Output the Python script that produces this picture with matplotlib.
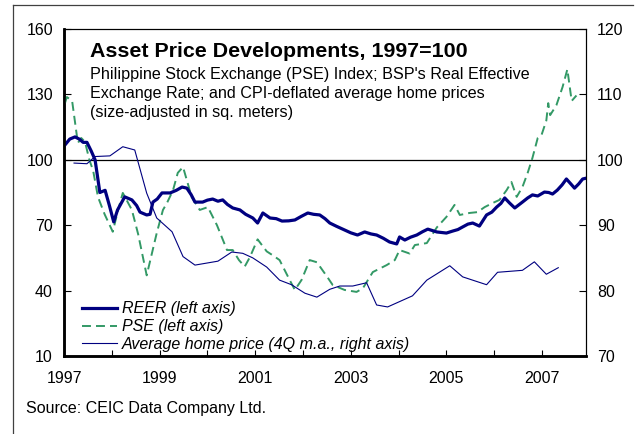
import matplotlib
matplotlib.use("Agg")
import matplotlib.pyplot as plt
from matplotlib.lines import Line2D

plt.rcParams['font.family'] = ['Liberation Sans', 'DejaVu Sans']

# ---- data (decimal years, values) ----
reer_dates = [1997.02, 1997.12, 1997.23, 1997.32, 1997.40, 1997.48, 1997.57, 1997.65, 1997.75, 1997.86,
              1997.95, 1998.04, 1998.12, 1998.27, 1998.42, 1998.52, 1998.59, 1998.73, 1998.80, 1998.86,
              1998.95, 1999.05, 1999.22, 1999.35, 1999.47, 1999.57, 1999.66, 1999.74, 1999.90, 2000.00,
              2000.11, 2000.22, 2000.32, 2000.42, 2000.53, 2000.68, 2000.80, 2000.95, 2001.05, 2001.16,
              2001.31, 2001.44, 2001.56, 2001.70, 2001.83, 2001.96, 2002.10, 2002.22, 2002.35, 2002.46,
              2002.56, 2002.70, 2002.87, 2003.00, 2003.14, 2003.29, 2003.42, 2003.54, 2003.68, 2003.81,
              2003.96, 2004.02, 2004.13, 2004.25, 2004.38, 2004.50, 2004.61, 2004.80, 2005.00, 2005.13,
              2005.24, 2005.34, 2005.45, 2005.55, 2005.69, 2005.84, 2005.95, 2006.05, 2006.14, 2006.22,
              2006.32, 2006.43, 2006.59, 2006.70, 2006.80, 2006.91, 2007.05, 2007.14, 2007.22, 2007.32,
              2007.42, 2007.51, 2007.60, 2007.68, 2007.77, 2007.85, 2007.91]
reer_vals = [106.8, 109.5, 110.5, 109.5, 108.0, 108.0, 104.0, 100.0, 85.0, 86.0,
             79.0, 71.5, 77.0, 83.0, 81.6, 79.0, 76.0, 74.7, 75.0, 80.6,
             82.0, 84.8, 84.8, 86.0, 87.5, 87.0, 84.0, 80.6, 80.6, 81.5,
             82.0, 81.0, 81.6, 79.5, 77.9, 77.0, 75.0, 73.3, 71.0, 75.6,
             73.3, 73.0, 71.9, 72.0, 72.4, 74.0, 75.6, 75.0, 74.7, 73.0,
             71.0, 69.5, 67.8, 66.5, 65.5, 66.9, 66.0, 65.5, 64.0, 62.3,
             61.4, 64.6, 63.2, 64.5, 65.5, 67.0, 68.2, 66.9, 66.4, 67.3,
             68.0, 69.2, 70.5, 71.0, 69.6, 74.7, 76.0, 78.3, 80.0, 82.5,
             80.2, 77.9, 80.6, 82.5, 83.9, 83.4, 85.2, 85.0, 84.3, 86.1,
             88.5, 91.2, 89.0, 87.0, 89.0, 91.2, 91.5]

pse_dates = [1997.02, 1997.06, 1997.17, 1997.29, 1997.36, 1997.44, 1997.53, 1997.61, 1997.71, 1997.85,
             1998.02, 1998.12, 1998.23, 1998.42, 1998.55, 1998.73, 1998.94, 1999.07, 1999.15, 1999.28,
             1999.38, 1999.49, 1999.67, 1999.84, 2000.01, 2000.20, 2000.41, 2000.53, 2000.66, 2000.78,
             2000.89, 2001.05, 2001.24, 2001.38, 2001.51, 2001.72, 2001.83, 2001.97, 2002.14, 2002.29,
             2002.50, 2002.62, 2002.87, 2003.12, 2003.25, 2003.46, 2003.75, 2003.92, 2004.02, 2004.23,
             2004.34, 2004.59, 2004.80, 2005.00, 2005.17, 2005.28, 2005.48, 2005.65, 2005.80, 2005.97,
             2006.11, 2006.26, 2006.36, 2006.47, 2006.59, 2006.70, 2006.80, 2006.91, 2006.99, 2007.09,
             2007.13, 2007.17, 2007.30, 2007.43, 2007.53, 2007.62, 2007.72]
pse_vals = [126.0, 128.8, 127.0, 107.7, 110.0, 108.2, 100.0, 95.0, 83.0, 75.0,
            67.0, 76.0, 84.8, 77.0, 66.0, 47.0, 66.4, 77.0, 80.0, 86.0,
            94.0, 96.7, 83.0, 77.0, 78.3, 70.0, 58.6, 58.6, 54.0, 51.0,
            55.4, 63.5, 58.0, 56.0, 54.0, 44.9, 40.3, 44.9, 54.0, 53.0,
            46.5, 42.6, 40.3, 39.4, 41.0, 48.5, 51.7, 54.0, 58.6, 57.0,
            60.9, 61.8, 69.0, 73.8, 79.3, 74.7, 75.6, 76.0, 78.3, 80.2,
            81.6, 86.1, 89.8, 83.0, 87.5, 94.0, 100.9, 110.0, 111.4, 118.0,
            126.0, 120.5, 125.0, 133.4, 141.5, 127.0, 129.5]

home_dates = [1997.21, 1997.48, 1997.65, 1997.96, 1998.23, 1998.48, 1998.73, 1998.94, 1999.26, 1999.49,
              1999.74, 2000.22, 2000.51, 2000.74, 2000.95, 2001.24, 2001.51, 2001.76, 2002.04, 2002.29,
              2002.56, 2002.77, 2003.04, 2003.33, 2003.54, 2003.77, 2004.29, 2004.59, 2005.07, 2005.34,
              2005.84, 2006.07, 2006.59, 2006.84, 2007.09, 2007.34]
home_vals = [99.5, 99.4, 100.5, 100.6, 102.0, 101.5, 94.9, 91.1, 89.0, 85.2,
             83.9, 84.5, 85.9, 85.7, 85.0, 83.6, 81.6, 80.9, 79.6, 79.0,
             80.2, 80.7, 80.7, 81.2, 77.8, 77.5, 79.2, 81.6, 83.8, 82.1,
             80.9, 82.8, 83.1, 84.4, 82.5, 83.5]

left_ticks = [10, 40, 70, 100, 130, 160]
right_ticks = [70, 80, 90, 100, 110, 120]
year_labels = [1997, 1999, 2001, 2003, 2005, 2007]
minor_years = [1998, 2000, 2002, 2004, 2006]

NAVY = '#000080'
GREEN = '#339966'
FS = 11.5

W, H = 635, 434
fig = plt.figure(figsize=(W / 100, H / 100), dpi=100)
ax = fig.add_axes([64 / W, 1 - 356 / H, (586 - 64) / W, (356 - 29) / H])
ax2 = ax.twinx()

l1, = ax.plot(reer_dates, reer_vals, color=NAVY, lw=2.3, solid_joinstyle='round', zorder=4)
l2, = ax.plot(pse_dates, pse_vals, color=GREEN, lw=1.4, dashes=(4.6, 2.6), zorder=3)
ax.axhline(100, color='black', lw=0.9, zorder=2)
l3, = ax2.plot(home_dates, home_vals, color=NAVY, lw=0.8, zorder=3)

ax.set_xlim(1997, 2007.92)
ax.set_ylim(10, 160)
ax2.set_ylim(70, 120)
ax.set_yticks(left_ticks)
ax2.set_yticks(right_ticks)
ax.set_xticks(year_labels)
ax.set_xticks(minor_years, minor=True)
ax.set_xticklabels([str(y) for y in year_labels])

for a in (ax, ax2):
    a.tick_params(axis='both', which='both', direction='in', length=5, width=0.8,
                  labelsize=FS, colors='black')
ax.tick_params(axis='y', pad=8)
ax2.tick_params(axis='y', pad=8)
ax.tick_params(axis='x', which='both', pad=11, length=4)

for a in (ax, ax2):
    a.spines['left'].set_linewidth(1.8)
    a.spines['bottom'].set_linewidth(1.8)
    a.spines['top'].set_linewidth(0.8)
    a.spines['right'].set_linewidth(0.8)

leg = ax2.legend([l1, l2, l3],
                 ['REER (left axis)', 'PSE (left axis)', 'Average home price (4Q m.a., right axis)'],
                 loc='lower left', bbox_to_anchor=(0.034, 0.012), frameon=False,
                 prop={'style': 'italic', 'size': FS}, handlelength=2.2,
                 handletextpad=0.3, labelspacing=0.18, borderpad=0, borderaxespad=0)

# titles
fig.text(90 / W, 1 - 57 / H, 'Asset Price Developments, 1997=100', fontsize=15.4,
         fontweight='bold', va='baseline', ha='left')
subs = ["Philippine Stock Exchange (PSE) Index; BSP's Real Effective",
        "Exchange Rate; and CPI-deflated average home prices",
        "(size-adjusted in sq. meters)"]
for i, s in enumerate(subs):
    fig.text(90 / W, 1 - (79 + 19 * i) / H, s, fontsize=11.6, va='baseline', ha='left')

fig.text(26 / W, 1 - 413 / H, 'Source: CEIC Data Company Ltd.', fontsize=FS,
         va='baseline', ha='left')

# outer frame (top and left)
fig.add_artist(Line2D([13 / W, 633 / W], [1 - 5 / H, 1 - 5 / H], color='#404040', lw=0.9,
                      transform=fig.transFigure))
fig.add_artist(Line2D([13 / W, 13 / W], [1 - 5 / H, 0], color='#404040', lw=0.9,
                      transform=fig.transFigure))

fig.savefig('out.png', dpi=100)
